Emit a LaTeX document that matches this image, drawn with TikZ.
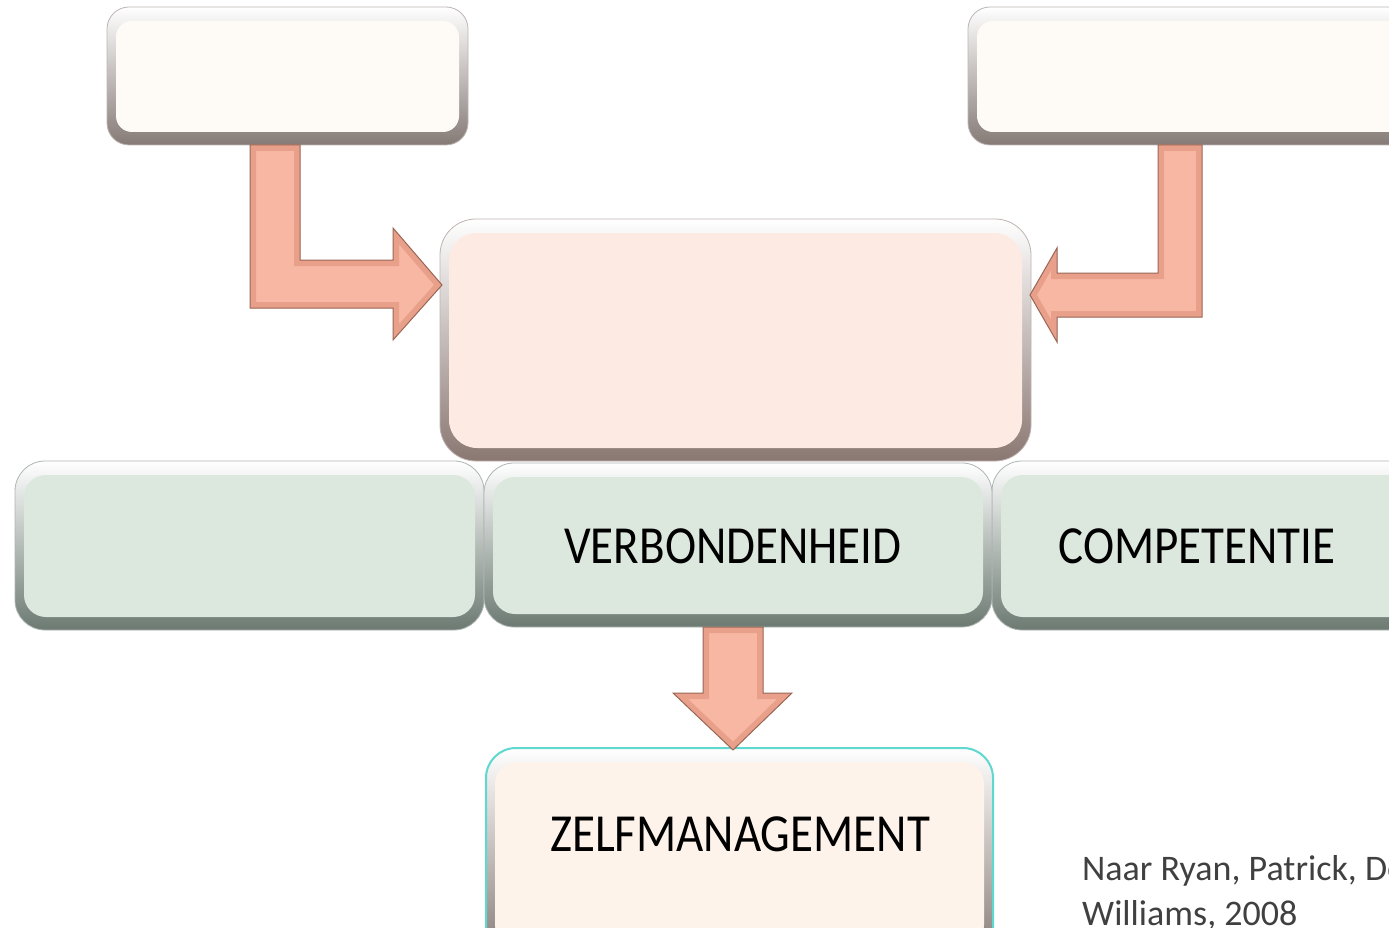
\documentclass[tikz,border=0pt]{standalone}
\usepackage{fontspec}
\setmainfont{Carlito}
\usetikzlibrary{fit}
\definecolor{whitefill}{HTML}{FEFBF7}
\definecolor{whitedark}{HTML}{857A76}
\definecolor{pinkfill}{HTML}{FDEAE2}
\definecolor{pinkdark}{HTML}{8A7772}
\definecolor{greenfill}{HTML}{DCE8DE}
\definecolor{greendark}{HTML}{6C7A72}
\definecolor{peachfill}{HTML}{FEF3EA}
\definecolor{cyanedge}{HTML}{5FD8D0}
\definecolor{arrowfill}{HTML}{F8B7A3}
\definecolor{arrowrim}{HTML}{E8A08A}
\definecolor{arrowedge}{HTML}{9A6656}
\definecolor{citegrey}{HTML}{404040}
\newcommand\bevouter[5]{%
  \shade[rounded corners=#5pt, top color=white, middle color=#3, bottom color=#4, draw=#4!55, line width=0.8pt] #1 rectangle #2;
}
\newcommand\bevbox[9]{%
  \bevouter{(#2,#3)}{(#4,#5)}{#6}{#7}{#8}
  \node[inner sep=0pt, fit={(#2+9,#3+14) (#4-9,#5-13)}, fill=#6, rounded corners=#9pt] (#1) {};
}
\newcommand\arrowA{(250,145) -- (300,145) -- (300,260) -- (393,260) -- (393,228) -- (442,285) -- (393,340) -- (393,308) -- (250,308) -- cycle}
\newcommand\arrowB{(1158,145) -- (1202,145) -- (1202,317) -- (1057,317) -- (1057,342) -- (1030,295) -- (1057,248) -- (1057,273) -- (1158,273) -- cycle}
\newcommand\arrowC{(703,627) -- (763,627) -- (763,693) -- (792,693) -- (733,750) -- (673,693) -- (703,693) -- cycle}
\newcommand\bevarrow[1]{%
  \begin{scope}
    \clip #1;
    \filldraw[fill=arrowfill, draw=arrowrim, line width=12pt, line join=miter] #1;
  \end{scope}
  \draw[arrowedge, line width=1pt, line join=miter] #1;
}
\begin{document}
\begin{tikzpicture}[x=1pt,y=-1pt,
  lbl/.style={font=\fontsize{47}{52}\selectfont, text=black, inner sep=0pt}]
\useasboundingbox (0,0) rectangle (1389,928);
\clip (0,0) rectangle (1389,928);
\fill[white] (0,0) rectangle (1389,928);
% boxes
\bevbox{tl}{107}{7}{468}{145}{whitefill}{whitedark}{22}{16}
\bevbox{tr}{968}{7}{1420}{145}{whitefill}{whitedark}{22}{16}
\bevbox{ctr}{440}{219}{1031}{461}{pinkfill}{pinkdark}{36}{28}
\bevbox{gl}{15}{461}{484}{630}{greenfill}{greendark}{30}{22}
\bevbox{gr}{992}{461}{1420}{630}{greenfill}{greendark}{30}{22}
\bevbox{gm}{484}{463}{992}{627}{greenfill}{greendark}{30}{22}
\bevouter{(486,748)}{(993,960)}{peachfill}{whitedark}{30}
\draw[cyanedge, line width=2pt, rounded corners=30pt] (486,748) rectangle (993,960);
\node[inner sep=0pt, fit={(495,762) (984,947)}, fill=peachfill, rounded corners=22pt] (zm) {};
% arrows
\bevarrow{\arrowA}
\bevarrow{\arrowB}
\bevarrow{\arrowC}
% labels
\node[lbl] (t1) at (733,546) {\scalebox{1}[1.14]{VERBONDENHEID}};
\node[lbl] (t2) at (1197,546) {\scalebox{1}[1.14]{COMPETENTIE}};
\node[lbl] (t3) at (740,834) {\scalebox{1}[1.14]{ZELFMANAGEMENT}};
\node[anchor=base west, inner sep=0pt, font=\fontsize{36}{45}\selectfont, text=citegrey, align=left] (cite) at (1082,925) {Naar Ryan, Patrick, Deci \&\\Williams, 2008};
\end{tikzpicture}
\end{document}
